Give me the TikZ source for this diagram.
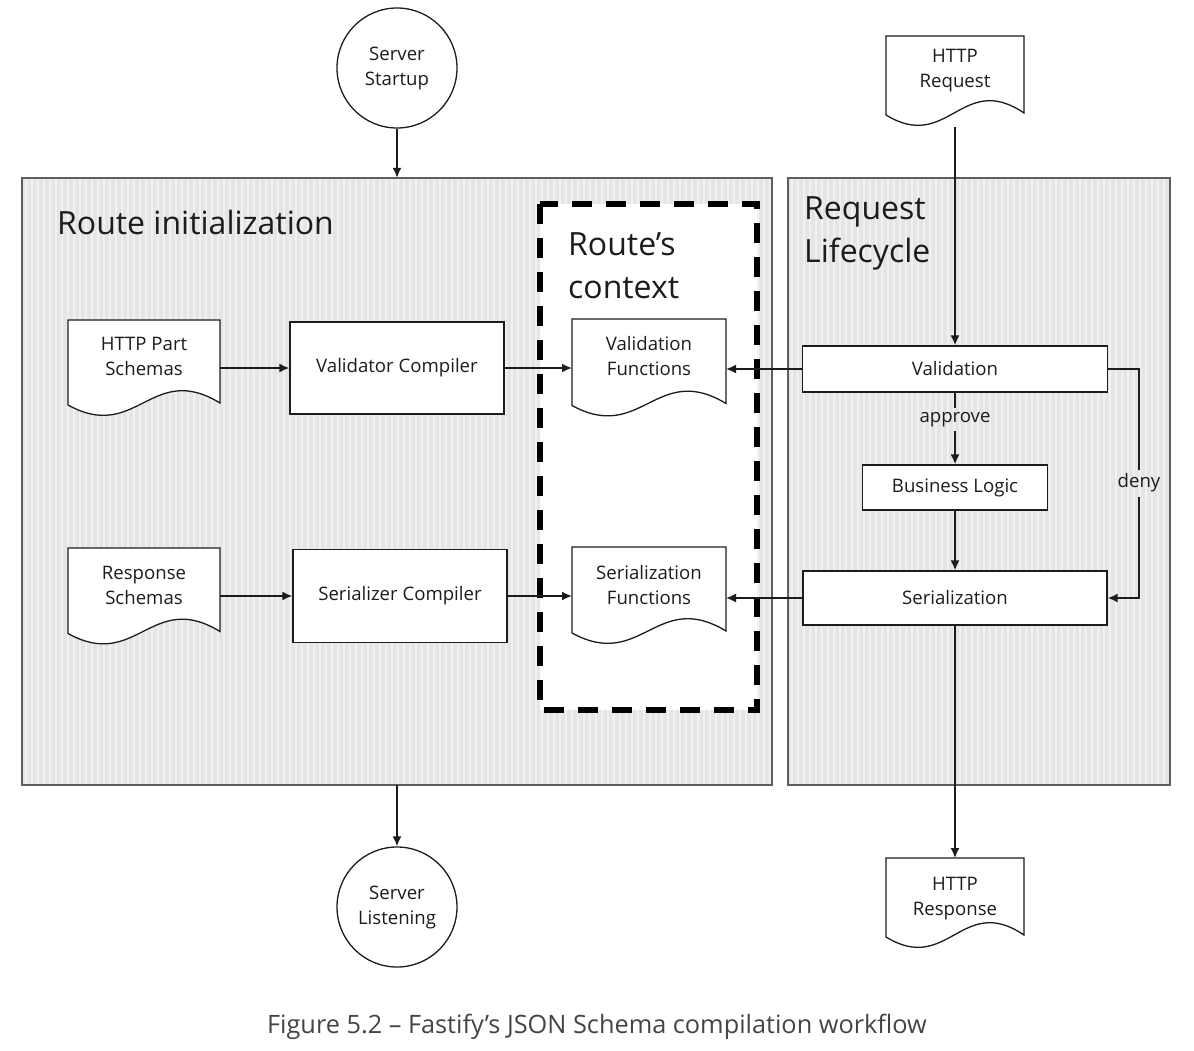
\documentclass[tikz,border=0pt]{standalone}
\usepackage{fontspec}
\setmainfont{Open Sans}
\usetikzlibrary{arrows.meta,calc}
\pgfdeclarelayer{back}
\pgfdeclarelayer{mid}
\pgfsetlayers{back,mid,main}
\definecolor{ink}{HTML}{1C1C1C}
\definecolor{panel}{HTML}{E4E5E5}
\definecolor{stripe}{HTML}{F0F1F1}
\definecolor{frame}{HTML}{5E5E5E}
\definecolor{capc}{HTML}{444444}
% name, half width, top offset, bottom offset (from text centre)
\newcommand\docshape[4]{%
  \begin{pgfonlayer}{mid}
  \draw[ink, line width=1.3, fill=white]
    ($(#1.center)+(-#2,-#3)$) -- ($(#1.center)+(#2,-#3)$) -- ($(#1.center)+(#2,#4-2)$)
    .. controls ($(#1.center)+(0.1*#2,#4-44)$) and ($(#1.center)+(-0.1*#2,#4+38)$) ..
    ($(#1.center)+(-#2,#4)$) -- cycle;
  \end{pgfonlayer}
  \coordinate (#1-top) at ($(#1.center)+(0,-#3)$);
  \coordinate (#1-bot) at ($(#1.center)+(0,#4+12)$);
  \coordinate (#1-l) at ($(#1.center)+(-#2,0)$);
  \coordinate (#1-r) at ($(#1.center)+(#2,0)$);
}
\begin{document}
\begin{tikzpicture}[x=1pt,y=-1pt, font=\fontsize{18.6}{25}\selectfont, text=ink,
  arr/.style={draw=ink, line width=1.7, -{Latex[length=10,width=9]}},
  plain/.style={draw=ink, line width=1.7},
  box/.style={draw=ink, fill=white, line width=1.3, align=center, inner sep=0},
  docnode/.style={align=center, inner sep=0},
  circ/.style={circle, draw=ink, line width=1.3, fill=white, minimum size=120, align=center, inner sep=0},
  title/.style={font=\fontsize{32}{43}\selectfont, align=left, anchor=west, inner sep=0},
  lbl/.style={inner sep=4}]
\useasboundingbox (0,0) rectangle (1194,1050);

% panels
\begin{pgfonlayer}{back}
  \node[fill=panel, minimum width=750, minimum height=607, inner sep=0] (lp) at (397,481.5) {};
  \node[fill=panel, minimum width=382, minimum height=607, inner sep=0] (rp) at (979,481.5) {};
  \foreach \x in {26,32,...,770} \draw[stripe, line width=2.4] (\x,179) -- (\x,784);
  \foreach \x in {792,798,...,1168} \draw[stripe, line width=2.4] (\x,179) -- (\x,784);
  \draw[frame, line width=1.5] (lp.north west) rectangle (lp.south east);
  \draw[frame, line width=1.5] (rp.north west) rectangle (rp.south east);
\end{pgfonlayer}
\begin{pgfonlayer}{mid}
  \draw[black, fill=white, line width=6, dash pattern=on 20 off 14] (540,204) rectangle (757,710);
\end{pgfonlayer}

\node[title] (t1) at (57,222) {Route initialization};
\node[title] (t2) at (568,265.5) {Route’s\\context};
\node[title] (t3) at (804,233.5) {Request\\Lifecycle};

% circles
\node[circ] (start) at (397,68) {Server\\Startup};
\node[circ] (listen) at (397,907) {Server\\Listening};

% documents
\node[docnode] (req) at (955,70.5) {HTTP\\Request};
\node[docnode] (resp) at (955,898.5) {HTTP\\Response};
\node[docnode] (hps) at (144,356) {HTTP Part\\Schemas};
\node[docnode] (rs) at (144,585) {Response\\Schemas};
\node[docnode] (vf) at (649,356) {Validation\\Functions};
\node[docnode] (sf) at (649,585) {Serialization\\Functions};
\docshape{req}{69}{34.5}{44.5}
\docshape{resp}{69}{40.5}{38.5}
\docshape{hps}{76}{36}{49}
\docshape{rs}{76}{37}{48.5}
\docshape{vf}{77}{37}{49.5}
\docshape{sf}{77}{38}{48}

% boxes
\node[box, minimum width=214, minimum height=92] (vc) at (397,368) {Validator Compiler};
\node[box, minimum width=214, minimum height=93] (sc) at (400,596) {Serializer Compiler};
\node[box, minimum width=305, minimum height=46] (val) at (955,369) {Validation};
\node[box, minimum width=185, minimum height=45] (biz) at (955,487.5) {Business Logic};
\node[box, minimum width=304, minimum height=54] (ser) at (955,598) {Serialization};

% connectors
\draw[arr] (start) -- (lp.north);
\draw[arr] (lp.south) -- (listen);
\draw[arr] (req-bot) -- (req-bot |- val.north);
\draw[arr] (hps-r |- vc.west) -- (vc.west);
\draw[arr] (vc.east) -- (vc.east -| vf-l);
\draw[arr] (val.west) -- (val.west -| vf-r);
\draw[arr] (rs-r |- sc.west) -- (sc.west);
\draw[arr] (sc.east) -- (sc.east -| sf-l);
\draw[arr] (ser.west) -- (ser.west -| sf-r);
\path (val.south) -- (biz.north) node[lbl, pos=0.38] (apv) {approve};
\draw[plain] (val.south) -- (apv.north);
\draw[arr] (apv.south) -- (biz.north);
\draw[arr] (biz.south) -- (ser.north);
\node[lbl] (deny) at (1139,483) {deny};
\draw[plain] (val.east) -- (val.east -| deny) -- (deny.north);
\draw[arr] (deny.south) -- (deny.south |- ser.east) -- (ser.east);
\draw[arr] (ser.south) -- (resp-top);

% caption
\node[text=capc, font=\fontsize{25.3}{28}\selectfont, inner sep=0] (cap) at (597,1027) {Figure 5.2 – Fastify’s JSON Schema compilation workflow};
\end{tikzpicture}
\end{document}
